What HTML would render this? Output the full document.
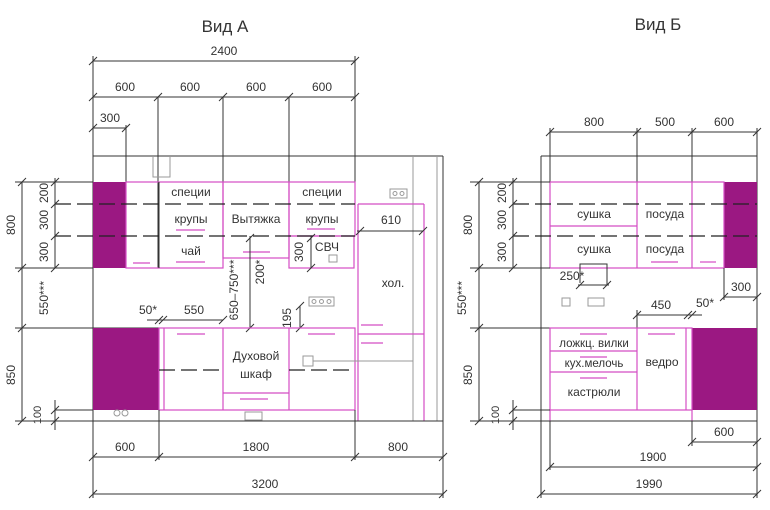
<!DOCTYPE html>
<html><head><meta charset="utf-8"><style>
html,body{margin:0;padding:0;background:#fff;width:770px;height:510px;overflow:hidden}
svg{display:block}
text{font-family:"Liberation Sans","DejaVu Sans",sans-serif;fill:#333;font-size:12px;text-anchor:middle}
.k{stroke:#333;stroke-width:1;fill:none}
.g{stroke:#999;stroke-width:1;fill:none}
.m{stroke:#d44ec4;stroke-width:1.2;fill:none}
.p{fill:#9b1882;stroke:none}
.d{stroke:#222;stroke-width:1.2;stroke-dasharray:16 6;fill:none}
.t{stroke:#333;stroke-width:1}
.ti{font-size:17px}
</style></head><body>
<svg width="770" height="510" viewBox="0 0 770 510" xmlns="http://www.w3.org/2000/svg">
<defs><path id="tk" d="M-4 4 L4 -4" stroke="#333" stroke-width="1"/></defs>

<!-- ===== VIEW A ===== -->
<text class="ti" x="225" y="32">Вид А</text>
<!-- top dims -->
<line class="k" x1="93" y1="61" x2="355" y2="61"/>
<use href="#tk" x="93" y="61"/><use href="#tk" x="355" y="61"/>
<text x="224" y="55">2400</text>
<line class="k" x1="93" y1="97" x2="355" y2="97"/>
<use href="#tk" x="93" y="97"/><use href="#tk" x="158" y="97"/><use href="#tk" x="223" y="97"/><use href="#tk" x="289" y="97"/><use href="#tk" x="355" y="97"/>
<text x="125" y="91">600</text><text x="190" y="91">600</text><text x="256" y="91">600</text><text x="322" y="91">600</text>
<line class="k" x1="93" y1="128" x2="126" y2="128"/>
<use href="#tk" x="93" y="128"/><use href="#tk" x="126" y="128"/>
<text x="110" y="122">300</text>
<line class="k" x1="93" y1="56" x2="93" y2="498"/>
<line class="k" x1="355" y1="56" x2="355" y2="182"/>
<line class="k" x1="158" y1="97" x2="158" y2="268"/>
<line class="k" x1="223" y1="97" x2="223" y2="182"/>
<line class="k" x1="289" y1="97" x2="289" y2="182"/>
<line class="k" x1="126" y1="125" x2="126" y2="182"/>
<!-- ceiling & walls -->
<line class="k" x1="93" y1="156" x2="443" y2="156"/>
<path class="g" d="M153 156 V177 H170 V156"/>
<line class="g" x1="413" y1="156" x2="413" y2="421"/>
<line class="g" x1="437" y1="156" x2="437" y2="421"/>
<line class="k" x1="443" y1="156" x2="443" y2="498"/>
<!-- upper -->
<rect class="p" x="93" y="182" width="33" height="86"/>
<rect class="m" x="126" y="182" width="97" height="86"/>
<line class="k" x1="159" y1="182" x2="159" y2="268"/>
<rect class="m" x="223" y="182" width="66" height="76"/>
<rect class="m" x="289" y="182" width="66" height="54"/>
<rect class="m" x="289" y="236" width="65" height="32"/>
<line class="m" x1="133" y1="263" x2="150" y2="263"/>
<line class="m" x1="176" y1="230" x2="205" y2="230"/>
<line class="m" x1="176" y1="262" x2="205" y2="262"/>
<line class="m" x1="243" y1="252" x2="270" y2="252"/>
<line class="m" x1="307" y1="229" x2="335" y2="229"/>
<line class="d" x1="55" y1="204" x2="355" y2="204"/>
<line class="d" x1="55" y1="236" x2="355" y2="236"/>
<text x="191" y="196">специи</text><text x="191" y="223">крупы</text><text x="191" y="255">чай</text>
<text x="256" y="223">Вытяжка</text>
<text x="322" y="196">специи</text><text x="322" y="223">крупы</text>
<text x="327" y="251">СВЧ</text>
<rect class="g" x="329" y="255" width="8" height="7"/>
<!-- CBЧ 300 dim -->
<line class="k" x1="311" y1="236" x2="311" y2="268"/>
<use href="#tk" x="311" y="238"/><use href="#tk" x="311" y="268"/>
<text x="0" y="0" transform="translate(303,252) rotate(-90)">300</text>
<!-- fridge -->
<line class="m" x1="358" y1="204" x2="424" y2="204"/>
<line class="m" x1="358" y1="204" x2="358" y2="421"/>
<line class="m" x1="424" y1="204" x2="424" y2="421"/>
<line class="m" x1="358" y1="334" x2="424" y2="334"/>
<line class="m" x1="361" y1="325" x2="383" y2="325"/>
<line class="m" x1="361" y1="343" x2="383" y2="343"/>
<line class="k" x1="357" y1="231" x2="423" y2="231"/>
<use href="#tk" x="360" y="231"/><use href="#tk" x="423" y="231"/>
<text x="391" y="224">610</text>
<text x="393" y="287">хол.</text>
<rect class="g" x="390" y="189" width="17" height="9"/>
<circle class="g" cx="395" cy="193.5" r="2"/><circle class="g" cx="402" cy="193.5" r="2"/>
<!-- mid dims -->
<line class="k" x1="250" y1="236" x2="250" y2="328"/>
<use href="#tk" x="250" y="238"/><use href="#tk" x="250" y="328"/>
<text transform="translate(264,272) rotate(-90)">200*</text>
<text transform="translate(238,290) rotate(-90)">650–750***</text>
<line class="k" x1="300" y1="306" x2="300" y2="328"/>
<use href="#tk" x="300" y="306"/><use href="#tk" x="300" y="328"/>
<text transform="translate(291,318) rotate(-90)">195</text>
<rect class="g" x="309" y="297" width="25" height="9"/>
<circle class="g" cx="314" cy="301.5" r="2"/><circle class="g" cx="321.5" cy="301.5" r="2"/><circle class="g" cx="329" cy="301.5" r="2"/>
<line class="k" x1="147" y1="320" x2="223" y2="320"/>
<use href="#tk" x="159" y="320"/><use href="#tk" x="163" y="320"/><use href="#tk" x="223" y="320"/>
<text x="194" y="314">550</text><text x="148" y="314">50*</text>
<!-- lower -->
<line class="k" x1="15" y1="328" x2="355" y2="328"/>
<rect class="p" x="93" y="328" width="66" height="82"/>
<rect class="m" x="159" y="328" width="196" height="82"/>
<line class="m" x1="164" y1="328" x2="164" y2="410"/>
<line class="m" x1="223" y1="328" x2="223" y2="410"/>
<line class="m" x1="289" y1="328" x2="289" y2="410"/>
<line class="m" x1="223" y1="393" x2="289" y2="393"/>
<line class="m" x1="177" y1="334" x2="205" y2="334"/>
<line class="m" x1="308" y1="334" x2="335" y2="334"/>
<line class="m" x1="240" y1="399" x2="268" y2="399"/>
<line class="d" x1="159" y1="370" x2="223" y2="370"/>
<line class="d" x1="289" y1="370" x2="355" y2="370"/>
<text x="256" y="360">Духовой</text><text x="256" y="378">шкаф</text>
<rect class="g" x="303" y="356" width="10" height="10"/>
<line class="g" x1="313" y1="361" x2="413" y2="361"/>
<rect class="g" x="245" y="412" width="17" height="8"/>
<circle class="g" cx="117" cy="413" r="3"/><circle class="g" cx="125" cy="413" r="3"/>
<line class="k" x1="15" y1="421" x2="443" y2="421"/>
<line class="k" x1="55" y1="410" x2="93" y2="410"/>
<!-- bottom dims -->
<line class="k" x1="159" y1="410" x2="159" y2="460"/>
<line class="k" x1="355" y1="410" x2="355" y2="460"/>
<line class="k" x1="93" y1="457" x2="443" y2="457"/>
<use href="#tk" x="93" y="457"/><use href="#tk" x="159" y="457"/><use href="#tk" x="355" y="457"/><use href="#tk" x="443" y="457"/>
<text x="125" y="451">600</text><text x="256" y="451">1800</text><text x="398" y="451">800</text>
<line class="k" x1="93" y1="494" x2="443" y2="494"/>
<use href="#tk" x="93" y="494"/><use href="#tk" x="443" y="494"/>
<text x="265" y="488">3200</text>
<!-- left dims -->
<line class="k" x1="15" y1="182" x2="93" y2="182"/>
<line class="k" x1="15" y1="268" x2="93" y2="268"/>
<line class="k" x1="22" y1="182" x2="22" y2="421"/>
<use href="#tk" x="22" y="182"/><use href="#tk" x="22" y="268"/><use href="#tk" x="22" y="328"/><use href="#tk" x="22" y="421"/>
<text transform="translate(15,225) rotate(-90)">800</text>
<text transform="translate(48,298) rotate(-90)">550***</text>
<text transform="translate(15,375) rotate(-90)">850</text>
<line class="k" x1="55" y1="178" x2="55" y2="268"/>
<use href="#tk" x="55" y="182"/><use href="#tk" x="55" y="204"/><use href="#tk" x="55" y="236"/><use href="#tk" x="55" y="268"/>
<text transform="translate(48,193) rotate(-90)">200</text>
<text transform="translate(48,220) rotate(-90)">300</text>
<text transform="translate(48,252) rotate(-90)">300</text>
<line class="k" x1="55" y1="400" x2="55" y2="430"/>
<use href="#tk" x="55" y="410"/><use href="#tk" x="55" y="421"/>
<text transform="translate(41,415) rotate(-90)" style="font-size:11px">100</text>

<!-- ===== VIEW Б ===== -->
<text class="ti" x="658" y="30">Вид Б</text>
<line class="k" x1="550" y1="132" x2="757" y2="132"/>
<use href="#tk" x="550" y="132"/><use href="#tk" x="637" y="132"/><use href="#tk" x="692" y="132"/><use href="#tk" x="757" y="132"/>
<text x="594" y="126">800</text><text x="665" y="126">500</text><text x="724" y="126">600</text>
<line class="k" x1="550" y1="128" x2="550" y2="182"/>
<line class="k" x1="637" y1="128" x2="637" y2="182"/>
<line class="k" x1="692" y1="128" x2="692" y2="182"/>
<line class="k" x1="757" y1="128" x2="757" y2="498"/>
<line class="k" x1="541" y1="156" x2="541" y2="498"/>
<line class="k" x1="541" y1="156" x2="757" y2="156"/>
<!-- upper -->
<rect class="p" x="724" y="182" width="33" height="86"/>
<rect class="m" x="550" y="182" width="174" height="86"/>
<line class="m" x1="637" y1="182" x2="637" y2="268"/>
<line class="m" x1="692" y1="182" x2="692" y2="268"/>
<line class="m" x1="550" y1="226" x2="637" y2="226"/>
<line class="m" x1="651" y1="262" x2="678" y2="262"/>
<line class="m" x1="700" y1="262" x2="716" y2="262"/>
<line class="d" x1="513" y1="204" x2="757" y2="204"/>
<line class="d" x1="513" y1="236" x2="757" y2="236"/>
<text x="594" y="218">сушка</text><text x="665" y="218">посуда</text>
<text x="594" y="253">сушка</text><text x="665" y="253">посуда</text>
<path class="k" d="M580 283 V264 H607 V285"/>
<line class="k" x1="578" y1="285" x2="609" y2="285"/>
<use href="#tk" x="580" y="285"/><use href="#tk" x="607" y="285"/>
<text x="572" y="280">250*</text>
<rect class="g" x="562" y="298" width="8" height="8"/>
<rect class="g" x="588" y="298" width="16" height="8"/>
<line class="k" x1="724" y1="268" x2="724" y2="300"/>
<line class="k" x1="724" y1="297" x2="757" y2="297"/>
<use href="#tk" x="724" y="297"/><use href="#tk" x="757" y="297"/>
<text x="741" y="291">300</text>
<line class="k" x1="637" y1="310" x2="637" y2="328"/>
<line class="k" x1="637" y1="315" x2="702" y2="315"/>
<use href="#tk" x="637" y="315"/><use href="#tk" x="688" y="315"/><use href="#tk" x="692" y="315"/>
<text x="661" y="309">450</text><text x="705" y="307">50*</text>
<!-- lower -->
<line class="k" x1="470" y1="328" x2="550" y2="328"/>
<rect class="p" x="692" y="328" width="65" height="82"/>
<rect class="m" x="550" y="328" width="142" height="82"/>
<line class="m" x1="637" y1="328" x2="637" y2="410"/>
<line class="m" x1="686" y1="328" x2="686" y2="410"/>
<line class="m" x1="550" y1="351" x2="637" y2="351"/>
<line class="m" x1="550" y1="372" x2="637" y2="372"/>
<line class="m" x1="580" y1="334" x2="607" y2="334"/>
<line class="m" x1="580" y1="357" x2="607" y2="357"/>
<line class="m" x1="580" y1="378" x2="607" y2="378"/>
<line class="m" x1="648" y1="334" x2="675" y2="334"/>
<line class="m" x1="550" y1="410" x2="550" y2="421"/>
<line class="m" x1="692" y1="410" x2="692" y2="421"/>
<text x="594" y="347" style="font-size:11.5px">ложкц. вилки</text>
<text x="594" y="367" style="font-size:11.5px">кух.мелочь</text>
<text x="594" y="396">кастрюли</text>
<text x="662" y="366">ведро</text>
<line class="k" x1="513" y1="410" x2="550" y2="410"/>
<line class="k" x1="470" y1="421" x2="757" y2="421"/>
<line class="k" x1="550" y1="421" x2="550" y2="470"/>
<line class="k" x1="692" y1="421" x2="692" y2="446"/>
<line class="k" x1="692" y1="442" x2="757" y2="442"/>
<use href="#tk" x="692" y="442"/><use href="#tk" x="757" y="442"/>
<text x="724" y="436">600</text>
<line class="k" x1="550" y1="467" x2="757" y2="467"/>
<use href="#tk" x="550" y="467"/><use href="#tk" x="757" y="467"/>
<text x="653" y="461">1900</text>
<line class="k" x1="541" y1="494" x2="757" y2="494"/>
<use href="#tk" x="541" y="494"/><use href="#tk" x="757" y="494"/>
<text x="649" y="488">1990</text>
<!-- left dims B -->
<line class="k" x1="470" y1="182" x2="550" y2="182"/>
<line class="k" x1="470" y1="268" x2="550" y2="268"/>
<line class="k" x1="479" y1="182" x2="479" y2="421"/>
<use href="#tk" x="479" y="182"/><use href="#tk" x="479" y="268"/><use href="#tk" x="479" y="328"/><use href="#tk" x="479" y="421"/>
<text transform="translate(472,225) rotate(-90)">800</text>
<text transform="translate(466,298) rotate(-90)">550***</text>
<text transform="translate(472,375) rotate(-90)">850</text>
<line class="k" x1="513" y1="178" x2="513" y2="268"/>
<use href="#tk" x="513" y="182"/><use href="#tk" x="513" y="204"/><use href="#tk" x="513" y="236"/><use href="#tk" x="513" y="268"/>
<text transform="translate(506,193) rotate(-90)">200</text>
<text transform="translate(506,220) rotate(-90)">300</text>
<text transform="translate(506,252) rotate(-90)">300</text>
<line class="k" x1="513" y1="400" x2="513" y2="430"/>
<use href="#tk" x="513" y="410"/><use href="#tk" x="513" y="421"/>
<text transform="translate(499,415) rotate(-90)" style="font-size:11px">100</text>
</svg>
</body></html>
